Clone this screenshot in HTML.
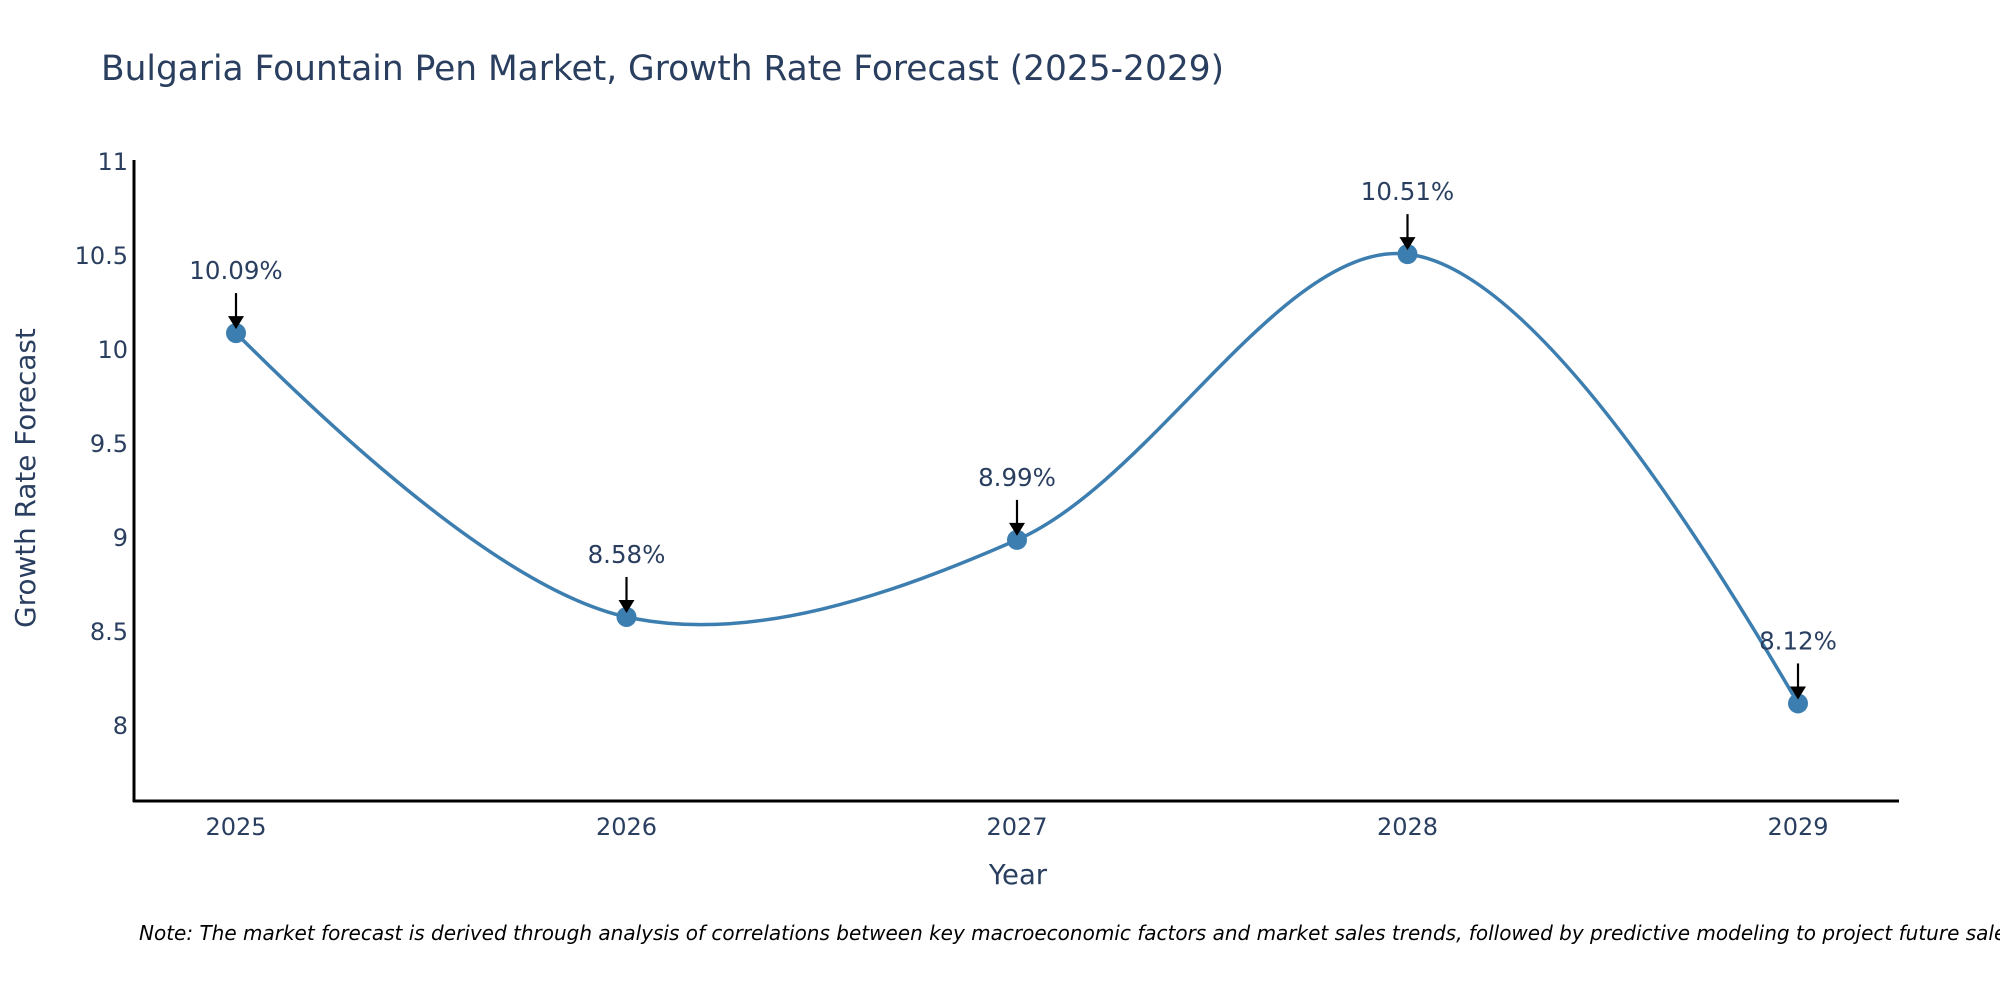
<!DOCTYPE html>
<html><head><meta charset="utf-8"><style>
body{margin:0;background:#fff;}
svg{display:block;font-family:"DejaVu Sans","Liberation Sans",sans-serif;}
</style></head><body>
<svg id="chart" width="2000" height="1000" viewBox="0 0 2000 1000">
<text x="101" y="80" font-size="34.4" fill="#2a3f5f">Bulgaria Fountain Pen Market, Growth Rate Forecast (2025-2029)</text>
<g id="yticks"></g>
<g id="xticks"></g>
<line x1="134" y1="160" x2="134" y2="802" stroke="#000" stroke-width="3"/>
<line x1="133" y1="801" x2="1899" y2="801" stroke="#000" stroke-width="3"/>
<path id="line" fill="none" stroke="#3d7eb0" stroke-width="3.5"/>
<g id="marks"></g>
<text x="1018" y="884" font-size="27.5" fill="#2a3f5f" text-anchor="middle">Year</text>
<text transform="translate(35,478) rotate(-90)" font-size="27.8" fill="#2a3f5f" text-anchor="middle">Growth Rate Forecast</text>
<text x="139" y="940" font-size="20" font-style="italic" fill="#000">Note: The market forecast is derived through analysis of correlations between key macroeconomic factors and market sales trends, followed by predictive modeling to project future sales.</text>
</svg>
<script>
const years = [2025, 2026, 2027, 2028, 2029];
const values = [10.09, 8.58, 8.99, 10.51, 8.12];
const labels = ["10.09%", "8.58%", "8.99%", "10.51%", "8.12%"];
const yTicks = [8, 8.5, 9, 9.5, 10, 10.5, 11];
const yTickLabels = ["8", "8.5", "9", "9.5", "10", "10.5", "11"];

const NS = "http://www.w3.org/2000/svg";
const xScale = y => 236 + (y - 2025) * 390.5;
const yScale = v => 726 - (v - 8) * 188;
function mk(tag, attrs, parent) {
  const e = document.createElementNS(NS, tag);
  for (const k in attrs) e.setAttribute(k, attrs[k]);
  parent.appendChild(e);
  return e;
}
const yt = document.getElementById('yticks');
yTicks.forEach((t, i) => {
  const e = mk('text', {x: 128, y: yScale(t) + 8, 'font-size': 24, fill: '#2a3f5f', 'text-anchor': 'end'}, yt);
  e.textContent = yTickLabels[i];
  
  
});
const xt = document.getElementById('xticks');
years.forEach(y => {
  const e = mk('text', {x: xScale(y), y: 835, 'font-size': 24, fill: '#2a3f5f', 'text-anchor': 'middle'}, xt);
  e.textContent = y;
  
  
});
const pts = years.map((y, i) => [xScale(y), yScale(values[i])]);
function tangent(p, t, n, s) {
  const d1x = p[0]-t[0], d1y = p[1]-t[1], d2x = n[0]-t[0], d2y = n[1]-t[1];
  const d1a = Math.pow(d1x*d1x+d1y*d1y, 0.25), d2a = Math.pow(d2x*d2x+d2y*d2y, 0.25);
  const nx = (d2a*d2a*d1x - d1a*d1a*d2x)*s, ny = (d2a*d2a*d1y - d1a*d1a*d2y)*s;
  const den1 = 3*d2a*(d1a+d2a), den2 = 3*d1a*(d1a+d2a);
  return [[t[0]+nx/den1, t[1]+ny/den1], [t[0]-nx/den2, t[1]-ny/den2]];
}
const tans = [];
for (let i = 1; i < pts.length - 1; i++) tans.push(tangent(pts[i-1], pts[i], pts[i+1], 1));
let d = `M${pts[0]}Q${tans[0][0]} ${pts[1]}`;
for (let i = 1; i < pts.length - 2; i++) d += `C${tans[i-1][1]} ${tans[i][0]} ${pts[i+1]}`;
d += `Q${tans[tans.length-1][1]} ${pts[pts.length-1]}`;
document.getElementById('line').setAttribute('d', d);
const mg = document.getElementById('marks');
pts.forEach((p, i) => {
  const c = mk('circle', {cx: p[0], cy: p[1], r: 10, fill: '#3d7eb0'}, mg);
  
  
  const l = mk('line', {x1: p[0], y1: p[1]-40, x2: p[0], y2: p[1]-14, stroke: '#000', 'stroke-width': 2.2}, mg);
  
  
  const h = mk('polygon', {points: `${p[0]-8},${p[1]-17} ${p[0]+8},${p[1]-17} ${p[0]},${p[1]-4}`, fill: '#000'}, mg);
  
  
  const t = mk('text', {x: p[0], y: p[1]-54, 'font-size': 24.5, fill: '#2a3f5f', 'text-anchor': 'middle'}, mg);
  t.textContent = labels[i];
  
  
});
</script>
</body></html>
